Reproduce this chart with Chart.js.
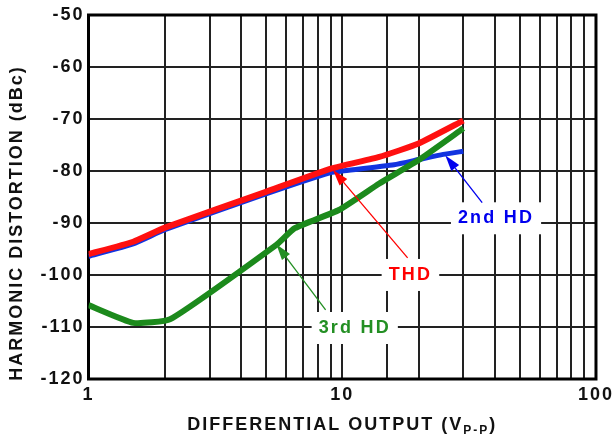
<!DOCTYPE html>
<html>
<head>
<meta charset="utf-8">
<script src="https://cdn.jsdelivr.net/npm/chart.js@4.4.1/dist/chart.umd.min.js"></script>
<style>
	html, body { margin: 0; padding: 0; background: #fff; }
	canvas { display: block; }
</style>
</head>
<body>
<canvas id="hdChart" width="616" height="440"></canvas>
<script>
// values (x = differential output Vp-p, y = dBc)
const thdX = [1, 1.5, 2, 5, 9.1, 14, 20, 30];
const thdY = [-96, -93.6, -90.9, -84, -79.5, -77.3, -74.7, -70.3];

const hd2X = [1, 1.5, 2, 5, 9, 10, 16, 20, 25, 30];
const hd2Y = [-96.4, -94.0, -91.3, -84.4, -80.3, -80.0, -78.8, -77.8, -76.8, -76.2];

const hd3X = [1, 1.5, 2.1, 5.5, 6.5, 9.7, 14, 20, 30];
const hd3Y = [-105.8, -109.2, -108.5, -94.2, -91, -87.5, -82.4, -77.9, -71.8];

const xLabelTicks = [1, 10, 100];
const yMin = -120, yMax = -50, yStep = 10;

// callouts: text, label centre, arrow tail and arrow tip (data coords)
const callouts = [
	{ text: "2nd HD", color: "#0000ee", at: [40, -88.9], tail: [35.6, -86.1], tip: [25.5, -77.0] },
	{ text: "THD", color: "#ff0000", at: [18.4, -99.8], tail: [18.1, -96.7], tip: [9.2, -79.8] },
	{ text: "3rd HD", color: "#238f23", at: [11.1, -110.0], tail: [8.6, -106.7], tip: [5.5, -94.1] }
];

const FONT = "'Liberation Sans', Arial, Helvetica, sans-serif";

function toPoints(xs, ys) {
	return xs.map((x, i) => ({ x: x, y: ys[i] }));
}

function drawArrow(ctx, x1, y1, x2, y2, color) {
	let ang = Math.atan2(y2 - y1, x2 - x1), len = 16, half = 5;
	let bx = x2 - len * Math.cos(ang), by = y2 - len * Math.sin(ang);
	ctx.strokeStyle = color;
	ctx.lineWidth = 1.3;
	ctx.beginPath();
	ctx.moveTo(x1, y1);
	ctx.lineTo(bx, by);
	ctx.stroke();
	ctx.fillStyle = color;
	ctx.beginPath();
	ctx.moveTo(x2, y2);
	ctx.lineTo(bx + half * Math.sin(ang), by - half * Math.cos(ang));
	ctx.lineTo(bx - half * Math.sin(ang), by + half * Math.cos(ang));
	ctx.closePath();
	ctx.fill();
}

const decorations = {
	id: "decorations",
	beforeDraw(chart) {
		chart.ctx.letterSpacing = "2px";
	},
	beforeDatasetsDraw(chart) {
		let ctx = chart.ctx, a = chart.chartArea, xs = chart.scales.x, ys = chart.scales.y;
		ctx.save();
		//frame round the plot
		ctx.strokeStyle = "#000";
		ctx.lineWidth = 3;
		ctx.strokeRect(a.left, a.top, a.right - a.left, a.bottom - a.top);
		//white boxes behind the callout labels
		ctx.font = "bold 18px " + FONT;
		ctx.letterSpacing = "2.2px";
		callouts.forEach(c => {
			let w = ctx.measureText(c.text).width;
			let cx = xs.getPixelForValue(c.at[0]), cy = ys.getPixelForValue(c.at[1]);
			ctx.fillStyle = "#fff";
			ctx.fillRect(cx - w / 2 - 6, cy - 15, w + 14, 32);
		});
		ctx.restore();
	},
	afterDatasetsDraw(chart) {
		let ctx = chart.ctx, xs = chart.scales.x, ys = chart.scales.y;
		ctx.save();
		callouts.forEach(c => {
			drawArrow(ctx, xs.getPixelForValue(c.tail[0]), ys.getPixelForValue(c.tail[1]),
				xs.getPixelForValue(c.tip[0]), ys.getPixelForValue(c.tip[1]), c.color);
			ctx.font = "bold 18px " + FONT;
			ctx.letterSpacing = "2.2px";
			ctx.fillStyle = c.color;
			ctx.textAlign = "center";
			ctx.textBaseline = "middle";
			ctx.fillText(c.text, xs.getPixelForValue(c.at[0]) + 1, ys.getPixelForValue(c.at[1]) + 1);
		});
		ctx.restore();
	},
	afterDraw(chart) {
		let ctx = chart.ctx, a = chart.chartArea;
		ctx.save();
		ctx.fillStyle = "#111";
		ctx.letterSpacing = "2px";
		ctx.textBaseline = "middle";

		//y axis title
		ctx.save();
		ctx.translate(17, 223);
		ctx.rotate(-Math.PI / 2);
		ctx.font = "bold 18px " + FONT;
		ctx.textAlign = "center";
		ctx.fillText("HARMONIC DISTORTION (dBc)", 0, 0);
		ctx.restore();

		//x axis title with the P-P subscript
		let main = "DIFFERENTIAL OUTPUT (V", sub = "P-P", close = ")";
		ctx.font = "bold 18px " + FONT;
		let w1 = ctx.measureText(main).width, w3 = ctx.measureText(close).width;
		ctx.font = "bold 12px " + FONT;
		let w2 = ctx.measureText(sub).width;
		let x = (a.left + a.right) / 2 - (w1 + w2 + w3) / 2, y = 425;
		ctx.textAlign = "left";
		ctx.font = "bold 18px " + FONT;
		ctx.fillText(main, x, y);
		ctx.font = "bold 12px " + FONT;
		ctx.fillText(sub, x + w1, y + 6);
		ctx.font = "bold 18px " + FONT;
		ctx.fillText(close, x + w1 + w2, y);
		ctx.restore();
	}
};

new Chart(document.getElementById("hdChart").getContext("2d"), {
	type: "line",
	data: {
		datasets: [
			{ label: "2nd HD", data: toPoints(hd2X, hd2Y), borderColor: "#1234e0", borderWidth: 5, order: 3 },
			{ label: "THD", data: toPoints(thdX, thdY), borderColor: "#ff1010", borderWidth: 6, order: 2 },
			{ label: "3rd HD", data: toPoints(hd3X, hd3Y), borderColor: "#1c8a1c", borderWidth: 6, order: 1 }
		]
	},
	options: {
		responsive: false,
		animation: false,
		devicePixelRatio: 1,
		layout: { padding: { top: 15, right: 17, left: 0, bottom: 0 } },
		elements: { point: { radius: 0 }, line: { tension: 0.15 } },
		plugins: { legend: { display: false }, tooltip: { enabled: false } },
		scales: {
			x: {
				type: "logarithmic",
				min: 1, max: 100,
				afterFit: s => { s.height = 61; },
				grid: { color: "#222", lineWidth: 2, drawTicks: false },
				border: { display: false },
				ticks: {
					autoSkip: false, maxRotation: 0, padding: 5,
					color: "#111",
					font: { family: FONT, size: 18, weight: "bold" },
					callback: v => xLabelTicks.includes(v) ? String(v) : ""
				}
			},
			y: {
				min: yMin, max: yMax,
				afterFit: s => { s.width = 88.5; },
				grid: { color: "#222", lineWidth: 2, drawTicks: false },
				border: { display: false },
				ticks: {
					stepSize: yStep, padding: 4,
					color: "#111",
					font: { family: FONT, size: 18, weight: "bold" }
				}
			}
		}
	},
	plugins: [decorations]
});
</script>
</body>
</html>
